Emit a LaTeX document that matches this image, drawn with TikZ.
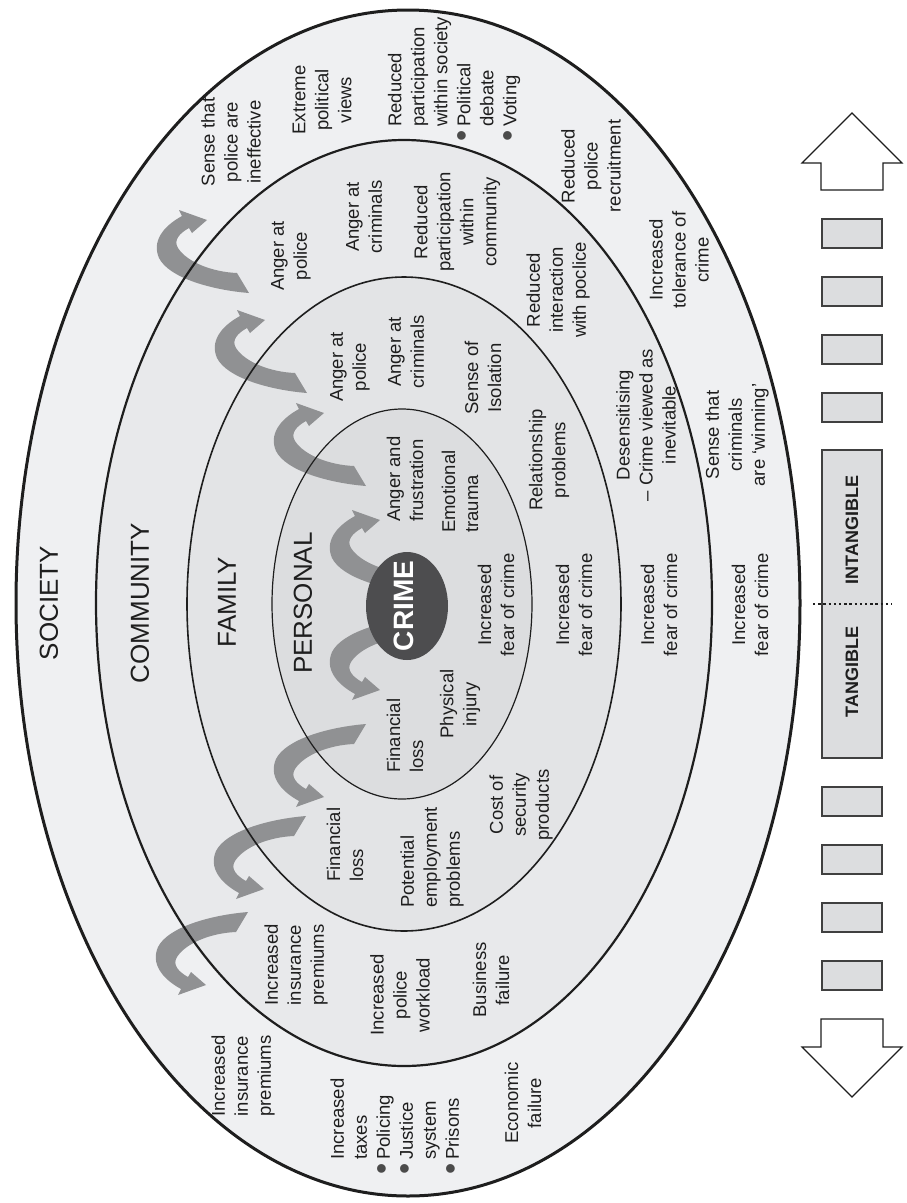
\documentclass[tikz,border=0pt]{standalone}
\usepackage{fontspec}
\setmainfont{Liberation Sans}
\usetikzlibrary{arrows.meta}
\definecolor{societyfill}{HTML}{EFF0F2}
\definecolor{communityfill}{HTML}{E8E9EB}
\definecolor{familyfill}{HTML}{E3E4E6}
\definecolor{personalfill}{HTML}{DCDDDF}
\definecolor{crimefill}{HTML}{4D4D4F}
\definecolor{bandgray}{HTML}{909193}
\definecolor{inkline}{HTML}{1E1E1E}

\newcommand{\bulletmark}{\llap{\raisebox{-2.5pt}{\fontsize{32}{23}\selectfont\textcolor{inkline!80}{\textbullet}}\,}}

\begin{document}
\begin{tikzpicture}[x=1pt,y=-1pt,
  lbl/.style={rotate=90,align=center,inner sep=0pt,text=inkline,
    font=\fontsize{18.5}{23}\selectfont},
  lblw/.style={lbl,align=left,anchor=west},
  ringname/.style={rotate=90,inner sep=0pt,text=inkline,
    font=\fontsize{26}{30}\selectfont},
  ringline/.style={draw=inkline},
  barbox/.style={draw=inkline!85,line width=1.3pt,fill=personalfill},
  blockarrow/.style={draw=inkline,line width=1.2pt,fill=white,line join=miter},
  %% hooked grey arrow, origin at the tip
  hookarrow/.pic={
    \fill[bandgray] (0,0) -- (-28,-10) -- (-25,-4)
      .. controls (-45,7) and (-55,22) .. (-48,38)
      .. controls (-38,58) and (5,70) .. (42,73)
      -- (30,53)
      .. controls (5,52) and (-20,42) .. (-29,28)
      .. controls (-34,20) and (-27,13) .. (-18,8)
      -- (-15,13) -- cycle;
  }]

\useasboundingbox (0,0) rectangle (906,1203);

%% ── ring fills ───────────────────────────────────────────────────────────────
\fill[societyfill]  (408,603) ellipse [x radius=392pt,y radius=593pt];
\fill[communityfill] (404,603) ellipse [x radius=308pt,y radius=463pt];
\fill[familyfill]   (404,604) ellipse [x radius=217pt,y radius=327pt];
\fill[personalfill] (402,604) ellipse [x radius=130pt,y radius=195pt];

%% ── hooked arrows: upper set, then the mirrored lower set ───────────────────
\foreach \px/\py in {380/520,324/413,265/320,207/220}
  \pic at (\px,\py) {hookarrow};
\foreach \px/\py in {380/690,324/797,264/889,206/985}
  \pic[yscale=-1] at (\px,\py) {hookarrow};

%% ── ring outlines ────────────────────────────────────────────────────────────
\draw[ringline,line width=3pt]   (408,603) ellipse [x radius=392pt,y radius=593pt];
\draw[ringline,line width=2.2pt] (404,603) ellipse [x radius=308pt,y radius=463pt];
\draw[ringline,line width=1.6pt] (404,604) ellipse [x radius=217pt,y radius=327pt];
\draw[ringline,line width=1.2pt] (402,604) ellipse [x radius=130pt,y radius=195pt];

%% ── crime core ───────────────────────────────────────────────────────────────
\fill[crimefill] (407,606) ellipse [x radius=41pt,y radius=54pt];
\node[rotate=90,inner sep=0pt,text=white,font=\fontsize{28}{30}\selectfont\bfseries]
  (crime) at (404,606) {CRIME};

%% ── ring names ───────────────────────────────────────────────────────────────
\node[ringname] (society)   at (49,603)  {SOCIETY};
\node[ringname] (community) at (140,603) {COMMUNITY};
\node[ringname] (family)    at (227,602) {FAMILY};
\node[ringname] (personal)  at (303,603) {PERSONAL};

%% ── society ring ─────────────────────────────────────────────────────────────
\node[lbl]  (soc-police)    at (231,142)  {Sense that\\police are\\ineffective};
\node[lbl]  (soc-extreme)   at (322,100)  {Extreme\\political\\views};
\node[lblw] (soc-particip)  at (454,127)  {Reduced\\participation\\within society\\\bulletmark Political\\debate\\\bulletmark Voting};
\node[lbl]  (soc-recruit)   at (591,166)  {Reduced\\police\\recruitment};
\node[lbl]  (soc-tolerance) at (679,260)  {Increased\\tolerance of\\crime};
\node[lbl]  (soc-winning)   at (737,435)  {Sense that\\criminals\\are ‘winning’};
\node[lbl]  (soc-fear)      at (750,605)  {Increased\\fear of crime};
\node[lbl]  (soc-economic)  at (523,1103) {Economic\\failure};
\node[lblw] (soc-taxes)     at (396,1160) {Increased\\taxes\\\bulletmark Policing\\\bulletmark Justice\\system\\\bulletmark Prisons};
\node[lbl]  (soc-insurance) at (243,1076) {Increased\\insurance\\premiums};

%% ── community ring ───────────────────────────────────────────────────────────
\node[lbl] (com-police)    at (291,256) {Anger at\\police};
\node[lbl] (com-criminals) at (364,217) {Anger at\\criminals};
\node[lbl] (com-particip)  at (457,222) {Reduced\\participation\\within\\community};
\node[lbl] (com-interact)  at (558,290) {Reduced\\interaction\\with poclice};
\node[lbl] (com-desens)    at (646,425) {Desensitising\\– Crime viewed as\\inevitable};
\node[lbl] (com-fear)      at (659,605) {Increased\\fear of crime};
\node[lbl] (com-business)  at (491,980) {Business\\failure};
\node[lbl] (com-workload)  at (400,995) {Increased\\police\\workload};
\node[lbl] (com-insurance) at (296,965) {Increased\\insurance\\premiums};

%% ── family ring ──────────────────────────────────────────────────────────────
\node[lbl]  (fam-police)    at (350,367) {Anger at\\police};
\node[lbl]  (fam-criminals) at (406,352) {Anger at\\criminals};
\node[lbl]  (fam-isolation) at (483,378) {Sense of\\Isolation};
\node[lbl]  (fam-relation)  at (549,460) {Relationship\\problems};
\node[lbl]  (fam-fear)      at (574,605) {Increased\\fear of crime};
\node[lbl]  (fam-security)  at (521,805) {Cost of\\security\\products};
\node[lblw] (fam-employ)    at (432,908) {Potential\\employment\\problems};
\node[lblw] (fam-loss)      at (345,882) {Financial\\loss};

%% ── personal ring ────────────────────────────────────────────────────────────
\node[lblw] (per-anger)  at (405,522) {Anger and\\frustration};
\node[lblw] (per-trauma) at (460,533) {Emotional\\trauma};
\node[lbl]  (per-fear)   at (496,605) {Increased\\fear of crime};
\node[lbl]  (per-injury) at (460,704) {Physical\\injury};
\node[lblw] (per-loss)   at (405,773) {Financial\\loss};

%% ── tangible / intangible scale ──────────────────────────────────────────────
\draw[blockarrow] (821,190) -- (821,163) -- (802,163) -- (852,113)
  -- (902,163) -- (883,163) -- (883,190) -- cycle;
\draw[blockarrow] (821,1019) -- (821,1047) -- (802,1047) -- (852,1097)
  -- (902,1047) -- (883,1047) -- (883,1019) -- cycle;
\foreach \t in {219,277,335,393,787,845,903,961}
  \draw[barbox] (822,\t) rectangle ++(60,29);
\draw[barbox] (822,450) rectangle (882,758);
\draw[inkline,line width=2.6pt,dash pattern=on 2.4pt off 2.8pt] (813,604) -- (892,604);
\node[rotate=90,inner sep=0pt,text=inkline,font=\fontsize{18}{20}\selectfont\bfseries]
  (intangible) at (852,530) {INTANGIBLE};
\node[rotate=90,inner sep=0pt,text=inkline,font=\fontsize{18}{20}\selectfont\bfseries]
  (tangible) at (852,672) {TANGIBLE};

\end{tikzpicture}
\end{document}
